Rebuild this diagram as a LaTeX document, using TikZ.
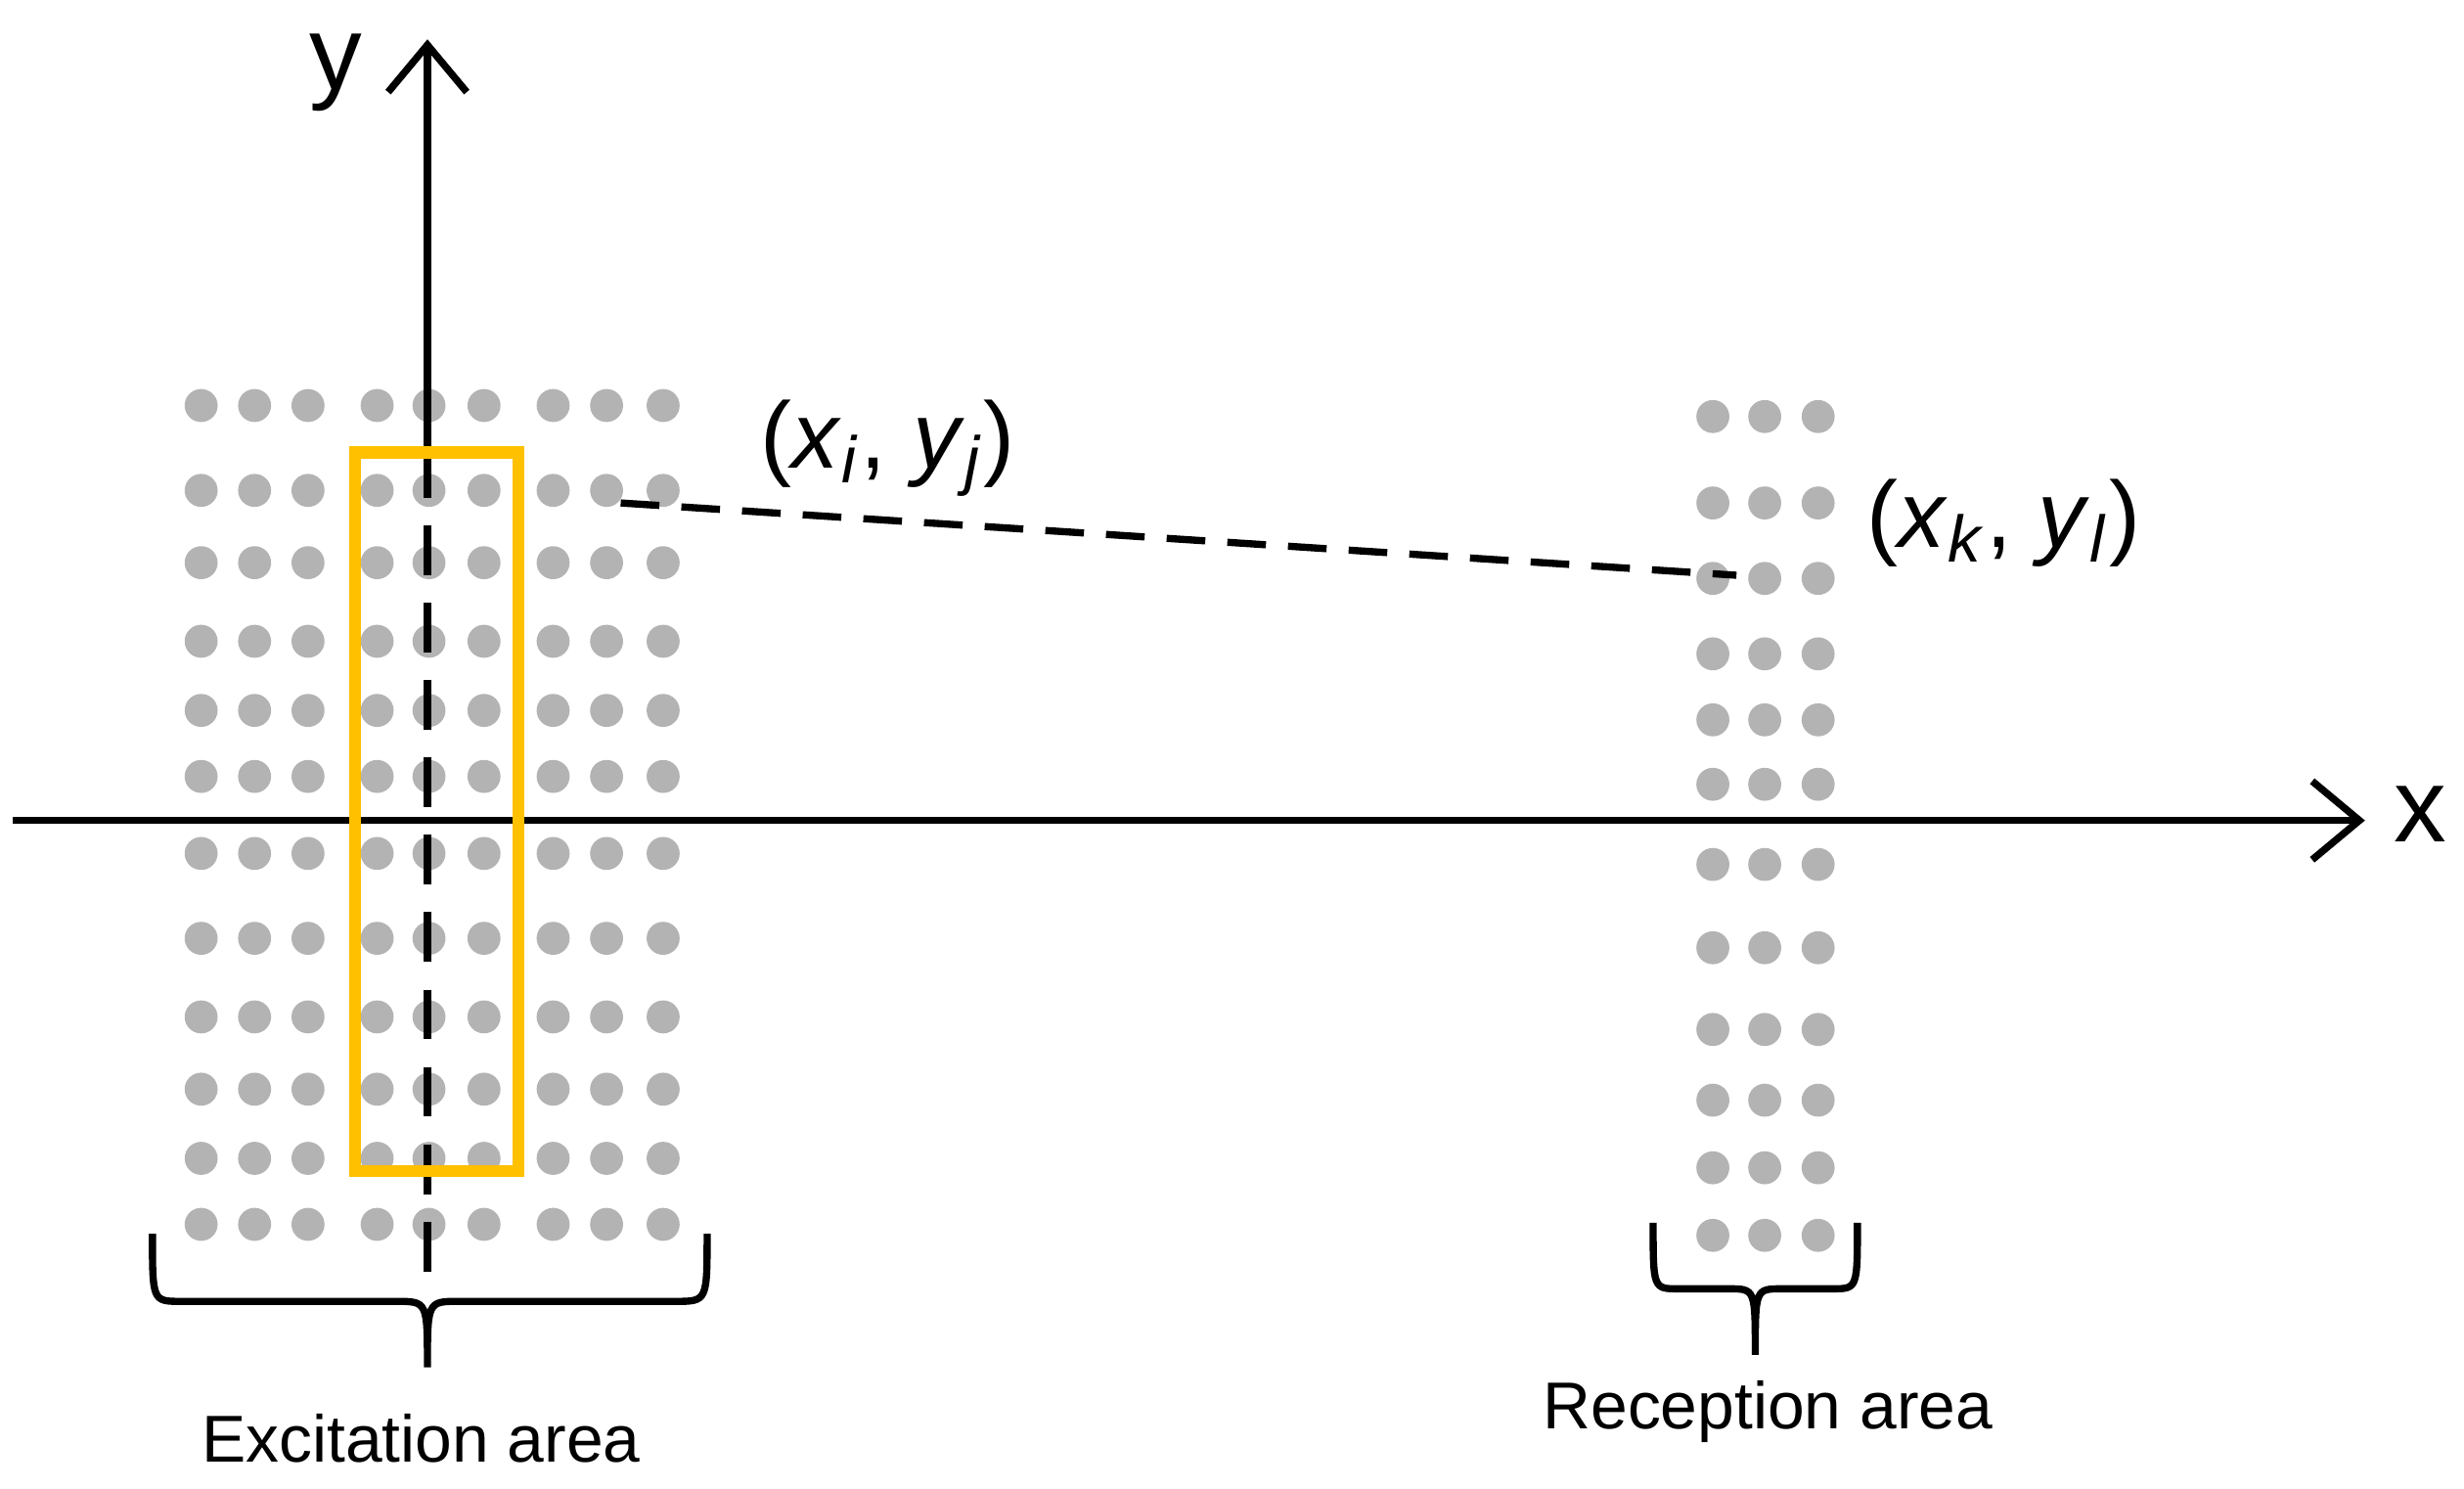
\documentclass[tikz,border=0pt]{standalone}
\usepackage{fontspec}
\setmainfont{Liberation Sans}
\usetikzlibrary{arrows.meta}
\definecolor{dotgray}{HTML}{B3B3B3}
\definecolor{gold}{HTML}{FFC000}
\newcommand{\vsub}[2]{\textit{#1}\textsubscript{\textit{#2}}}
\begin{document}
\begin{tikzpicture}[x=0.01cm,y=-0.01cm,
  dot/.style={circle,fill=dotgray,inner sep=0pt,minimum size=0.21cm},
  axis/.style={line width=1.3pt,-{Straight Barb[length=0.3cm,width=0.5cm,line width=1.3pt]}},
  brace/.style={line width=1.3pt},
  lbl/.style={font=\fontsize{12}{14}\selectfont}]
\useasboundingbox (0,0) rectangle (1568,947);
\foreach \x in {128,162,196,240,273,308,352,386,422}
  \foreach \y in {258,312,358,408,452,494,543,597,647,693,737,779}
    \node[dot] at (\x,\y) {};
\foreach \x in {1090,1123,1157}
  \foreach \y in {265,320,368,416,458,499,550,603,655,700,743,786}
    \node[dot] at (\x,\y) {};
\coordinate (xs) at (8,522); \coordinate (xe) at (1505,522);
\coordinate (ys) at (272,285); \coordinate (ye) at (272,25);
\coordinate (yd) at (272,810);
\draw[axis] (xs) -- (xe);
\draw[axis] (ys) -- (ye);
\draw[line width=1.3pt,dash pattern=on 9pt off 5pt] (ys) -- (yd);
\node[font=\fontsize{19}{22}\selectfont] (xl) at (1540,518) {x};
\node[font=\fontsize{19}{22}\selectfont] (yl) at (214,46) {y};
\draw[gold,line width=2.2pt] (226,288) rectangle (330,745);
\coordinate (p1) at (395,320); \coordinate (p2) at (1105,366);
\draw[line width=1.3pt,dash pattern=on 7pt off 4pt] (p1) -- (p2);
\node[font=\fontsize{17}{20}\selectfont] (l1) at (565,285) {(\vsub{x}{i}, \vsub{y}{j})};
\node[font=\fontsize{17}{20}\selectfont] (l2) at (1275,333) {(\vsub{x}{k}, \vsub{y}{l})};
\draw[brace] (97,785) .. controls (97,828) .. (115,828) -- (252,828) .. controls (272,828) .. (272,870)
  .. controls (272,828) .. (292,828) -- (430,828) .. controls (450,828) .. (450,785);
\draw[brace] (1052,778) .. controls (1052,820) .. (1068,820) -- (1100,820) .. controls (1117,820) .. (1117,862)
  .. controls (1117,820) .. (1134,820) -- (1166,820) .. controls (1182,820) .. (1182,778);
\node[lbl] (ea) at (268,915) {Excitation area};
\node[lbl] (ra) at (1125,898) {Reception area};
\end{tikzpicture}
\end{document}
